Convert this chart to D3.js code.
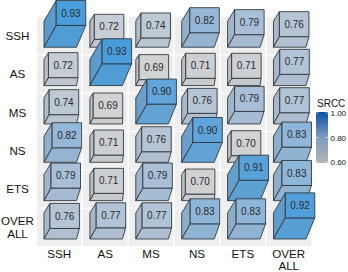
<!DOCTYPE html>
<html>
<head>
<meta charset="utf-8">
<script src="https://cdn.jsdelivr.net/npm/d3@7"></script>
<style>
html, body { margin: 0; padding: 0; background: #fff; }
text { font-family: "Liberation Sans", Arial, sans-serif; }
</style>
</head>
<body>
<svg id="chart" width="348" height="272" style="display:block"></svg>
<script>
var methods = ['SSH', 'AS', 'MS', 'NS', 'ETS', 'OVERALL'];
var legend_ticks = [0.6, 0.8, 1.0];
var row_ssh = [0.93, 0.72, 0.74, 0.82, 0.79, 0.76];
var row_as = [0.72, 0.93, 0.69, 0.71, 0.71, 0.77];
var row_ms = [0.74, 0.69, 0.90, 0.76, 0.79, 0.77];
var row_ns = [0.82, 0.71, 0.76, 0.90, 0.70, 0.83];
var row_ets = [0.79, 0.71, 0.79, 0.70, 0.91, 0.83];
var row_overall = [0.76, 0.77, 0.77, 0.83, 0.83, 0.92];
var rows = [row_ssh, row_as, row_ms, row_ns, row_ets, row_overall];

var svg = d3.select('#chart');

var x = d3.scaleBand().domain(methods).range([37, 311]).paddingInner(0.03);
var y = d3.scaleBand().domain(methods).range([17, 246]).paddingInner(0.03);

// how far the top of a cube is pushed up and right
var depth_x = d3.scaleLinear().domain([0.6, 1]).range([0, 14.8]);
var depth_y = d3.scaleLinear().domain([0.6, 1]).range([0, 26.4]);

var color = d3.scaleLinear()
	.domain([0.6, 0.7, 0.8, 1])
	.range(['#d6d6d6', '#d0d1d3', '#a3bdd8', '#1a8bdc']);

function pts(list){
	return list.map(function(p){ return p.join(','); }).join(' ');
}

// cells
methods.forEach(function(r){
	methods.forEach(function(c){
		svg.append('rect')
			.attr('x', x(c)).attr('y', y(r))
			.attr('width', x.bandwidth()).attr('height', y.bandwidth())
			.attr('fill', '#eeeeee');
	});
});

// cubes, top rows first so lower ones sit on top
rows.forEach(function(row, i){
	row.forEach(function(v, j){
		let x0 = x(methods[j]) + 7;
		let bottom = y(methods[i]) + y.bandwidth() - 7;
		let dx = depth_x(v);
		let dy = depth_y(v);
		let base_w = 32.5, face_w = 29.5, face_h = 25, base_h = 26;

		let fx = x0 + dx, fy = bottom - dy - face_h;
		let base = d3.color(color(v));
		let g = svg.append('g').attr('stroke', '#2c3338').attr('stroke-width', 0.95)
			.attr('stroke-opacity', 0.9).attr('stroke-linejoin', 'round');

		g.append('polygon') // left side
			.attr('points', pts([[fx, fy], [x0, bottom - base_h], [x0, bottom], [fx, fy + face_h]]))
			.attr('fill', d3.interpolateRgb(base, '#8a949c')(0.25));
		g.append('polygon') // bottom side
			.attr('points', pts([[fx, fy + face_h], [fx + face_w, fy + face_h], [x0 + base_w, bottom], [x0, bottom]]))
			.attr('fill', d3.interpolateRgb(base, '#8a949c')(0.1));
		g.append('rect') // front
			.attr('x', fx).attr('y', fy).attr('width', face_w).attr('height', face_h)
			.attr('fill', base);

		svg.append('text')
			.attr('x', fx + face_w / 2).attr('y', fy + face_h / 2 + 3.6)
			.attr('text-anchor', 'middle')
			.attr('font-size', 10).attr('fill', '#2b2b2b')
			.text(v.toFixed(2));
	});
});

// row and column labels
methods.forEach(function(m){
	let parts = m === 'OVERALL' ? ['OVER', 'ALL'] : [m];
	let cx = x(m) + x.bandwidth() / 2;
	let col = svg.append('text').attr('text-anchor', 'middle').attr('font-size', 11.6).attr('fill', '#111');
	parts.forEach(function(p, k){
		col.append('tspan').attr('x', cx).attr('y', 257.5 + k * 12.3).text(p);
	});
	let cy = y(m) + y.bandwidth() / 2 + (parts.length > 1 ? -1.9 : 4.2);
	let lab = svg.append('text').attr('text-anchor', 'middle').attr('font-size', 11.6).attr('fill', '#111');
	parts.forEach(function(p, k){
		lab.append('tspan').attr('x', 17.5).attr('y', cy + k * 12.3).text(p);
	});
});

// legend
var defs = svg.append('defs');
var grad = defs.append('linearGradient').attr('id', 'srcc').attr('x1', 0).attr('y1', 1).attr('x2', 0).attr('y2', 0);
grad.append('stop').attr('offset', '0%').attr('stop-color', '#b4b4b4');
grad.append('stop').attr('offset', '50%').attr('stop-color', '#7e9cc0');
grad.append('stop').attr('offset', '100%').attr('stop-color', '#0d4fa3');

var legend_y = d3.scaleLinear().domain([0.6, 1]).range([162, 113]);
svg.append('rect').attr('x', 316).attr('y', 112).attr('width', 12)
	.attr('height', 51).attr('fill', 'url(#srcc)');
legend_ticks.forEach(function(t){
	svg.append('text').attr('x', 330.5).attr('y', legend_y(t) + 3)
		.attr('font-size', 8).attr('fill', '#111').text(t.toFixed(2));
	svg.append('line').attr('x1', 316).attr('x2', 318.5).attr('y1', legend_y(t)).attr('y2', legend_y(t)).attr('stroke', '#fff').attr('stroke-width', 0.6);
	svg.append('line').attr('x1', 325.5).attr('x2', 328).attr('y1', legend_y(t)).attr('y2', legend_y(t)).attr('stroke', '#fff').attr('stroke-width', 0.6);
});
svg.append('text').attr('x', 317).attr('y', 107).attr('font-size', 10).attr('fill', '#111').text('SRCC');
</script>
</body>
</html>
